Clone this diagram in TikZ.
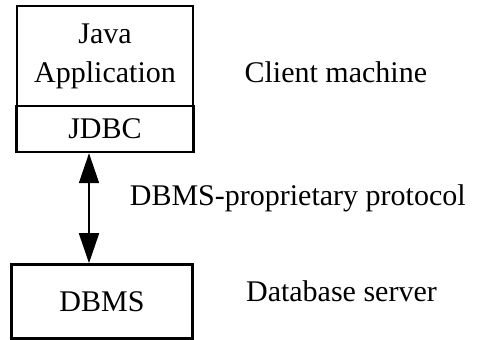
\documentclass[tikz,border=0pt]{standalone}
\usepackage{fontspec}
\setmainfont{Liberation Serif}
\usetikzlibrary{positioning,arrows.meta}
\tikzset{
  component/.style={draw=black,line width=1.2pt,fill=white,align=center,inner sep=0pt,font=\fontsize{15}{19.5}\selectfont},
  caption/.style={inner sep=0pt,font=\fontsize{15}{18}\selectfont},
  link/.style={line width=0.9pt,draw=black,{Triangle[length=15pt,width=10pt]}-{Triangle[length=15pt,width=10pt]}}
}

\begin{document}
\begin{tikzpicture}[node distance=55pt and 25pt]
    \useasboundingbox (0,0) rectangle (238.5pt,-170pt);
    \node[component,minimum width=88pt,minimum height=50pt] (app) at (52.5pt,-28pt) {Java\\Application};
    \node[component,minimum width=88.5pt,minimum height=23pt,below=-1.2pt of app] (jdbc) {JDBC};
    \node[component,minimum width=90.5pt,minimum height=37pt,below=of jdbc,xshift=-1.5pt] (dbms) {DBMS};
    \node[caption,right=of app,yshift=-8pt] (client) {Client machine};
    \node[caption,right=26pt of dbms,yshift=5pt] (server) {Database server};
    \draw[link] ([xshift=-8pt]jdbc.south) -- node[caption,right=20pt,pos=0.41] (proto) {DBMS-proprietary protocol} ([xshift=-8pt]jdbc.south |- dbms.north);
\end{tikzpicture}
\end{document}
